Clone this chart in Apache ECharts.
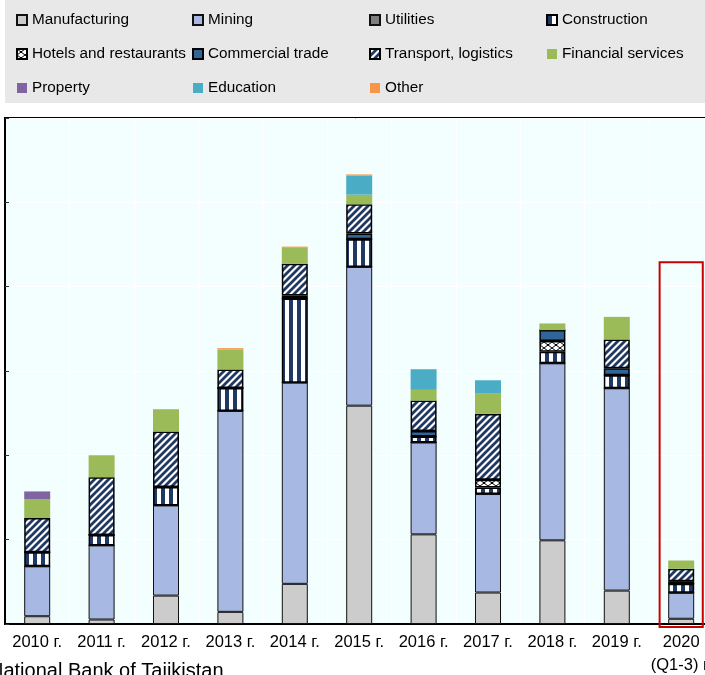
<!DOCTYPE html>
<html>
<head>
<meta charset="utf-8">
<script src="https://cdn.jsdelivr.net/npm/echarts@6/dist/echarts.min.js"></script>
<style>
html,body{margin:0;padding:0;background:#fff;}
#chart{width:705px;height:675px;}
</style>
</head>
<body>
<div id="chart"></div>
<script>
// ---- data ----
var categories = ['2010 г.','2011 г.','2012 г.','2013 г.','2014 г.','2015 г.','2016 г.','2017 г.','2018 г.','2019 г.','2020\n(Q1-3) г.'];
var manufacturing = [9.2, 5.3, 33.7, 14.4, 47.6, 258.9, 106.3, 37.3, 99.2, 39.6, 6.2];
var mining        = [59.2, 87.9, 106.9, 238.2, 238.6, 164.5, 108.9, 116.8, 209.9, 239.9, 30.8];
var utilities     = [0, 0, 0, 0, 0, 0, 0, 0, 0, 0, 0];
var construction  = [16.6, 12.3, 21.8, 27.2, 99.9, 32.8, 7.1, 7.8, 13.7, 15.4, 10.7];
var hotels        = [0, 0, 0, 0, 0, 0, 0, 9.1, 12.7, 0, 0];
var commercial    = [0, 0, 0, 0, 3.5, 6.7, 6.7, 0, 13.0, 8.3, 3.1];
var transport     = [40.7, 68.6, 65.8, 22.1, 37.5, 34.7, 35.9, 78.1, 0, 34.3, 14.7];
var financial     = [22.5, 26.0, 26.5, 23.7, 18.9, 11.5, 12.7, 24.0, 7.9, 26.7, 9.8];
var property      = [9.0, 0, 0, 0, 0, 0, 0, 0, 0, 0, 0];
var education     = [0, 0, 0, 0, 0, 22.8, 24.5, 15.9, 0, 0, 0];
var other         = [0, 0, 0, 1.5, 1.5, 1.2, 0, 0, 0, 0, 0];
var highlightBox  = [['2020\n(Q1-3) г.', 429]];
var sourceText = 'National Bank of Tajikistan';

// ---- patterns ----
var NAVY = '#1F3864';
function makeCanvas(w, h, draw){
  var c = document.createElement('canvas'); c.width = w; c.height = h;
  var ctx = c.getContext('2d'); draw(ctx, w, h); return c;
}
var vStripe = makeCanvas(8, 8, function(ctx, w, h){
  ctx.fillStyle = '#fff'; ctx.fillRect(0,0,w,h);
  ctx.fillStyle = NAVY; ctx.fillRect(1,0,4,h);
});
var diagStripe = makeCanvas(7, 7, function(ctx, s){
  ctx.fillStyle = '#fff'; ctx.fillRect(0,0,s,s);
  ctx.strokeStyle = NAVY; ctx.lineWidth = 2.8;
  ctx.beginPath();
  ctx.moveTo(0,s); ctx.lineTo(s,0);
  ctx.moveTo(-1,1); ctx.lineTo(1,-1);
  ctx.moveTo(s-1,s+1); ctx.lineTo(s+1,s-1);
  ctx.stroke();
});
var crossPat = makeCanvas(8, 6, function(ctx, w, h){
  ctx.fillStyle = '#fff'; ctx.fillRect(0,0,w,h);
  ctx.strokeStyle = '#000'; ctx.lineWidth = 1;
  ctx.beginPath();
  ctx.moveTo(0,0); ctx.lineTo(4,3); ctx.lineTo(8,0);
  ctx.moveTo(0,6); ctx.lineTo(4,3); ctx.lineTo(8,6);
  ctx.stroke();
  ctx.fillStyle = '#000'; ctx.fillRect(3,2,2,2);
});

function bar(name, data, color, bw, bc){
  return {
    name: name, type: 'bar', stack: 'total', data: data, barWidth: 26,
    itemStyle: {color: color, borderColor: bc || '#000', borderWidth: bw},
    emphasis: {disabled: true}, animation: false
  };
}

var FONT = '"Liberation Sans", Arial, sans-serif';
function legendCol(left, names){
  return {
    left: left, top: 12, orient: 'vertical', data: names, padding: 0,
    itemWidth: 10, itemHeight: 10, itemGap: 18, itemTextGap: 3,
    icon: 'rect', selectedMode: false,
    textStyle: {fontFamily: FONT, fontSize: 15.3, color: '#000', lineHeight: 16}
  };
}

var chart = echarts.init(document.getElementById('chart'), null, {renderer: 'canvas'});
var option = {
  animation: false,
  backgroundColor: '#fff',
  graphic: [
    {type: 'rect', z: -10, shape: {x: 5, y: 0, width: 700, height: 103}, style: {fill: '#E8E8E8'}},
    {type: 'text', left: -11, top: 661, style: {text: sourceText, font: '20px "Liberation Sans", Arial, sans-serif', fill: '#000'}}
  ],
  legend: [
    legendCol(16, ['Manufacturing', 'Hotels and restaurants', 'Property']),
    legendCol(192, ['Mining', 'Commercial trade', 'Education']),
    legendCol(369, ['Utilities', 'Transport, logistics', 'Other']),
    legendCol(546, ['Construction', 'Financial services'])
  ],
  grid: {left: 5, top: 118, width: 708.4, bottom: 51, show: true, backgroundColor: '#F3FFFF', borderColor: '#000', borderWidth: 2, containLabel: false, outerBoundsMode: 'none'},
  xAxis: {
    type: 'category', data: categories,
    axisLine: {lineStyle: {color: '#000', width: 2}},
    axisTick: {inside: true, length: 5, lineStyle: {color: '#000', width: 1.5}},
    splitLine: {show: true, lineStyle: {color: '#fff', width: 1}},
    axisLabel: {fontFamily: FONT, fontSize: 16.5, color: '#000', margin: 7, lineHeight: 23, interval: 0}
  },
  yAxis: {
    type: 'value', min: 0, max: 600, interval: 100,
    axisLine: {show: true, lineStyle: {color: '#000', width: 2}},
    axisTick: {show: true, inside: true, length: 4, lineStyle: {color: '#333', width: 1}},
    axisLabel: {show: false},
    splitLine: {show: true, lineStyle: {color: '#fff', width: 1}}
  },
  series: [
    bar('Manufacturing', manufacturing, '#CCCCCC', 1, '#111'),
    bar('Mining', mining, '#A7B8E2', 1, '#111'),
    bar('Utilities', utilities, '#7F7F7F', 1, '#111'),
    bar('Construction', construction, {image: vStripe, repeat: 'repeat'}, 1.5, '#000'),
    bar('Hotels and restaurants', hotels, {image: crossPat, repeat: 'repeat'}, 1.5, '#000'),
    bar('Commercial trade', commercial, '#2F6598', 1.5, '#000'),
    bar('Transport, logistics', transport, {image: diagStripe, repeat: 'repeat'}, 1.5, '#000'),
    bar('Financial services', financial, '#9BBB59', 0),
    bar('Property', property, '#8064A2', 0),
    bar('Education', education, '#4BACC6', 0),
    bar('Other', other, '#F79646', 0),
    {
      type: 'custom', name: 'box', data: highlightBox, z: 10, animation: false, silent: true,
      renderItem: function(params, api){
        var top = api.coord([api.value(0), api.value(1)]);
        var base = api.coord([api.value(0), 0]);
        var w = api.size([1, 0])[0] * 0.67;
        return {type: 'rect', shape: {x: top[0] - w/2, y: top[1], width: w, height: base[1] - top[1] + 3},
          style: {fill: 'none', stroke: '#CC0000', lineWidth: 2}};
      }
    }
  ]
};
chart.setOption(option);
</script>
</body>
</html>
